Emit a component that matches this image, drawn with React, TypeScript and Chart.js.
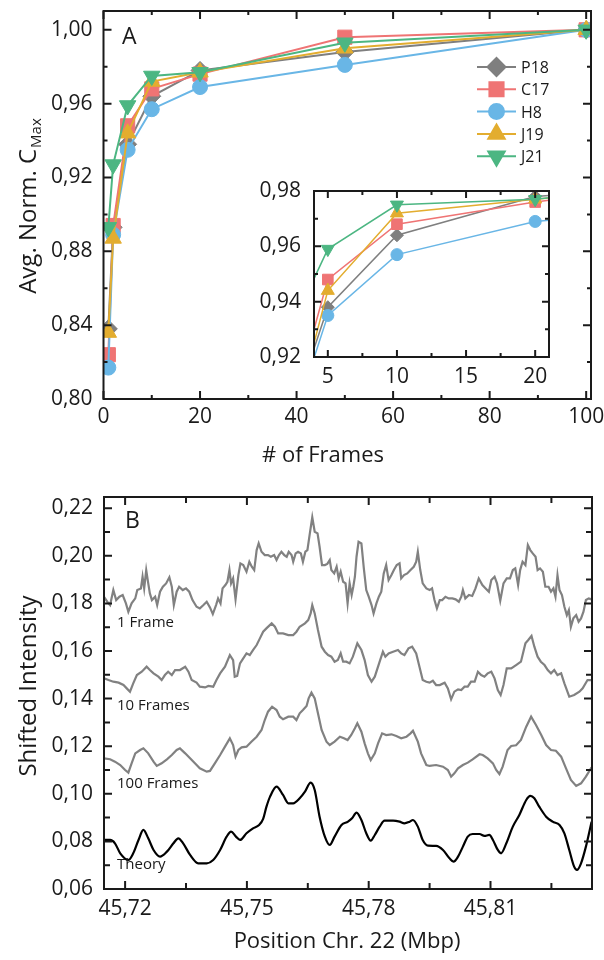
import React, { useEffect, useRef } from 'react';
import { Chart, registerables } from 'chart.js';
import { drawPoint } from 'chart.js/helpers';

Chart.register(...registerables);

const FONT = '"Open Sans", "DejaVu Sans", sans-serif';
const INK = '#1a1a1a';

// ---------------- Panel A data ----------------
const frames = [1, 2, 5, 10, 20, 50, 100];
const seriesNames = ['P18', 'C17', 'H8', 'J19', 'J21'];
const p18 = [0.838, 0.893, 0.938, 0.964, 0.978, 0.988, 1.0];
const c17 = [0.824, 0.894, 0.948, 0.968, 0.976, 0.996, 1.0];
const h8 = [0.817, 0.889, 0.935, 0.957, 0.969, 0.981, 1.0];
const j19 = [0.836, 0.887, 0.944, 0.972, 0.977, 0.990, 1.0];
const j21 = [0.893, 0.927, 0.959, 0.975, 0.977, 0.993, 1.0];
const seriesValues = [p18, c17, h8, j19, j21];
const seriesColors = ['#7f7f7f', '#ef7474', '#69b6e6', '#e3ad2f', '#4cb682'];
const pointStyles = ['rectRot', 'rect', 'circle', 'triangle', 'triangle'];
const pointRotations = [0, 0, 0, 0, 180];
const mainRadii = [9, 10, 7.5, 9.5, 9.5];
const insetRadii = [6.5, 7.5, 6, 7.5, 7.5];

const mainXTicks = [0, 20, 40, 60, 80, 100];
const mainXMinor = [10, 30, 50, 70, 90];
const mainYTicks = [0.8, 0.84, 0.88, 0.92, 0.96, 1.0];
const mainYMinor = [0.82, 0.86, 0.9, 0.94, 0.98];
const insetXTicks = [5, 10, 15, 20];
const insetXMinor = [7.5, 12.5, 17.5];
const insetYTicks = [0.92, 0.94, 0.96, 0.98];
const insetYMinor = [0.93, 0.95, 0.97];

// ---------------- Panel B data ----------------
const pos1Frame = [45.7148, 45.7156, 45.7163, 45.7171, 45.7178, 45.7186, 45.7194, 45.7202, 45.7208, 45.7216, 45.7225, 45.723, 45.7239, 45.7243, 45.7247, 45.7252, 45.7257, 45.7261, 45.7266, 45.7274, 45.7279, 45.7286, 45.7293, 45.7301, 45.7309, 45.7315, 45.732, 45.7327, 45.7333, 45.7342, 45.735, 45.7358, 45.7366, 45.7376, 45.7384, 45.7393, 45.7401, 45.7409, 45.7416, 45.7424, 45.7429, 45.7435, 45.744, 45.7447, 45.7452, 45.7457, 45.7461, 45.7466, 45.7472, 45.7479, 45.7484, 45.7491, 45.7499, 45.7506, 45.7512, 45.7518, 45.7524, 45.7529, 45.7536, 45.7544, 45.7552, 45.7559, 45.7567, 45.7573, 45.7579, 45.7585, 45.7592, 45.7598, 45.7603, 45.761, 45.7614, 45.762, 45.7626, 45.7633, 45.7638, 45.7644, 45.7649, 45.7655, 45.7661, 45.7667, 45.7674, 45.7679, 45.7685, 45.7692, 45.7698, 45.7704, 45.7708, 45.7715, 45.7721, 45.7726, 45.7731, 45.7737, 45.7743, 45.7748, 45.7753, 45.7758, 45.7762, 45.7766, 45.777, 45.7775, 45.7782, 45.7788, 45.7794, 45.78, 45.7807, 45.7812, 45.7819, 45.7825, 45.7831, 45.7837, 45.7843, 45.7849, 45.7856, 45.7862, 45.7869, 45.7876, 45.788, 45.7887, 45.7895, 45.7903, 45.7911, 45.7917, 45.7921, 45.7927, 45.7933, 45.7942, 45.795, 45.7956, 45.7962, 45.7968, 45.7975, 45.7981, 45.7989, 45.7997, 45.8006, 45.8014, 45.8022, 45.8028, 45.8032, 45.8038, 45.8047, 45.8055, 45.8063, 45.8071, 45.808, 45.8088, 45.8096, 45.8102, 45.811, 45.8116, 45.8124, 45.8132, 45.814, 45.8148, 45.8155, 45.8161, 45.8168, 45.8173, 45.8179, 45.8186, 45.8192, 45.8198, 45.8204, 45.8211, 45.8216, 45.8222, 45.8229, 45.8235, 45.8243, 45.8249, 45.8255, 45.826, 45.8265, 45.827, 45.8276, 45.8282, 45.8288, 45.8293, 45.8298, 45.8304, 45.8311, 45.8317, 45.8323, 45.8329, 45.8335, 45.8342, 45.8349];
const int1Frame = [0.1828, 0.1807, 0.1793, 0.1856, 0.1814, 0.1828, 0.1835, 0.18, 0.1765, 0.18, 0.1821, 0.1856, 0.1863, 0.1912, 0.1863, 0.194, 0.1884, 0.1842, 0.1814, 0.1828, 0.1793, 0.1849, 0.187, 0.1884, 0.191, 0.187, 0.1793, 0.1849, 0.187, 0.1856, 0.1863, 0.1849, 0.1814, 0.1786, 0.1779, 0.1793, 0.1807, 0.1783, 0.1755, 0.1793, 0.1821, 0.18, 0.1863, 0.1877, 0.1891, 0.194, 0.1884, 0.1905, 0.1817, 0.1919, 0.1968, 0.1961, 0.1933, 0.1975, 0.1954, 0.194, 0.2024, 0.2052, 0.2017, 0.2003, 0.2003, 0.1996, 0.2003, 0.1982, 0.2003, 0.2017, 0.2003, 0.1996, 0.2017, 0.2003, 0.1975, 0.201, 0.2017, 0.201, 0.1975, 0.2017, 0.2024, 0.2094, 0.2162, 0.2101, 0.2094, 0.2038, 0.1961, 0.1961, 0.1966, 0.1982, 0.194, 0.1926, 0.1954, 0.1905, 0.1933, 0.1891, 0.1884, 0.18, 0.1884, 0.1835, 0.187, 0.1912, 0.1996, 0.2059, 0.2052, 0.1947, 0.1856, 0.1828, 0.1793, 0.1758, 0.18, 0.1828, 0.1849, 0.1926, 0.1961, 0.1898, 0.1919, 0.194, 0.1961, 0.1968, 0.1905, 0.1919, 0.1926, 0.194, 0.1954, 0.1975, 0.2017, 0.194, 0.1884, 0.1863, 0.1856, 0.1863, 0.1814, 0.1779, 0.1814, 0.1814, 0.1828, 0.1821, 0.1821, 0.1817, 0.1807, 0.1828, 0.1856, 0.1821, 0.1835, 0.1831, 0.1863, 0.1905, 0.1877, 0.1863, 0.1849, 0.1898, 0.1912, 0.1884, 0.1811, 0.1884, 0.1905, 0.1905, 0.194, 0.1947, 0.1877, 0.194, 0.1975, 0.1961, 0.2045, 0.2024, 0.201, 0.1996, 0.194, 0.1947, 0.1933, 0.187, 0.187, 0.1849, 0.1863, 0.1828, 0.1919, 0.1856, 0.1835, 0.1786, 0.1751, 0.1772, 0.1702, 0.1737, 0.1751, 0.1723, 0.1737, 0.1765, 0.1814, 0.1821, 0.1817];

const pos10Frames = [45.7148, 45.7159, 45.7171, 45.7184, 45.7196, 45.7204, 45.7212, 45.722, 45.7229, 45.7241, 45.7253, 45.7261, 45.727, 45.7282, 45.729, 45.7298, 45.7306, 45.7315, 45.7323, 45.7335, 45.7348, 45.7356, 45.7364, 45.7376, 45.7384, 45.7397, 45.7405, 45.7417, 45.7425, 45.7434, 45.7446, 45.7458, 45.7466, 45.747, 45.7476, 45.7483, 45.7491, 45.7499, 45.7507, 45.7515, 45.7524, 45.7532, 45.754, 45.7548, 45.7561, 45.7569, 45.7577, 45.7589, 45.7602, 45.7614, 45.7622, 45.763, 45.7643, 45.7651, 45.7657, 45.7661, 45.7667, 45.7675, 45.7684, 45.7692, 45.77, 45.7708, 45.7716, 45.7724, 45.7731, 45.7737, 45.7745, 45.7753, 45.7761, 45.7772, 45.7782, 45.779, 45.7798, 45.7807, 45.7815, 45.7827, 45.7835, 45.7841, 45.7849, 45.786, 45.7872, 45.788, 45.7888, 45.7898, 45.7907, 45.7917, 45.7925, 45.7933, 45.7942, 45.795, 45.7958, 45.7966, 45.7975, 45.7987, 45.7995, 45.8003, 45.8011, 45.802, 45.8028, 45.8036, 45.8044, 45.8052, 45.8061, 45.8069, 45.8077, 45.8085, 45.8093, 45.8102, 45.811, 45.8118, 45.8125, 45.8132, 45.814, 45.8151, 45.8163, 45.8175, 45.8186, 45.8193, 45.8201, 45.8208, 45.8216, 45.8224, 45.8233, 45.8241, 45.8249, 45.8257, 45.8265, 45.8274, 45.8282, 45.8294, 45.8306, 45.8319, 45.8327, 45.8339, 45.8349];
const int10Frames = [0.1485, 0.1478, 0.1471, 0.1467, 0.1457, 0.1443, 0.1429, 0.1464, 0.1499, 0.1513, 0.1534, 0.152, 0.1506, 0.1492, 0.1478, 0.1499, 0.1513, 0.1499, 0.152, 0.152, 0.1534, 0.1513, 0.1478, 0.1467, 0.145, 0.1447, 0.1453, 0.145, 0.1478, 0.1506, 0.1534, 0.1583, 0.1562, 0.1492, 0.1495, 0.1548, 0.1569, 0.159, 0.1583, 0.1604, 0.1625, 0.1653, 0.1681, 0.1695, 0.1716, 0.1702, 0.1674, 0.1674, 0.1667, 0.1667, 0.1681, 0.1702, 0.1716, 0.173, 0.1758, 0.1793, 0.1758, 0.1688, 0.1618, 0.1597, 0.1583, 0.1576, 0.1555, 0.1562, 0.159, 0.1555, 0.1555, 0.1548, 0.1576, 0.1632, 0.1604, 0.1562, 0.1499, 0.1471, 0.1492, 0.1555, 0.1597, 0.1576, 0.159, 0.1597, 0.1604, 0.159, 0.1583, 0.1611, 0.1618, 0.159, 0.1534, 0.1478, 0.1471, 0.1467, 0.1475, 0.1457, 0.1457, 0.1467, 0.1443, 0.1397, 0.1429, 0.1439, 0.1436, 0.145, 0.145, 0.1471, 0.1471, 0.1513, 0.1499, 0.1492, 0.1506, 0.1513, 0.1485, 0.1436, 0.1415, 0.1457, 0.1527, 0.1527, 0.1541, 0.1555, 0.1632, 0.1646, 0.1663, 0.1618, 0.1576, 0.1555, 0.1541, 0.152, 0.1506, 0.152, 0.1499, 0.1506, 0.1464, 0.1408, 0.1415, 0.1429, 0.1443, 0.1478, 0.1478];

const pos100Frames = [45.7148, 45.7163, 45.7175, 45.7188, 45.72, 45.7208, 45.7216, 45.7225, 45.7237, 45.7245, 45.7257, 45.727, 45.7278, 45.729, 45.7303, 45.7315, 45.7327, 45.7335, 45.7348, 45.736, 45.7372, 45.7384, 45.7401, 45.7409, 45.7421, 45.7434, 45.7446, 45.7458, 45.7466, 45.7472, 45.7479, 45.7487, 45.7499, 45.7511, 45.7524, 45.7536, 45.7544, 45.7552, 45.7562, 45.7573, 45.7581, 45.7589, 45.7602, 45.7614, 45.7622, 45.763, 45.7638, 45.7647, 45.7652, 45.7659, 45.7667, 45.7675, 45.7684, 45.7696, 45.7704, 45.7716, 45.7729, 45.7739, 45.7748, 45.7757, 45.7766, 45.7772, 45.7782, 45.779, 45.7798, 45.7805, 45.7815, 45.7823, 45.7833, 45.7843, 45.7856, 45.7868, 45.788, 45.7893, 45.7903, 45.7909, 45.7921, 45.7929, 45.7942, 45.795, 45.7966, 45.7983, 45.7995, 45.8003, 45.8011, 45.802, 45.8032, 45.8044, 45.8056, 45.8073, 45.8081, 45.8093, 45.8106, 45.8114, 45.8122, 45.813, 45.8142, 45.8151, 45.8163, 45.8175, 45.8188, 45.82, 45.8212, 45.8225, 45.8237, 45.8249, 45.8261, 45.8274, 45.8286, 45.8298, 45.8311, 45.8323, 45.8335, 45.8349];
const int100Frames = [0.1149, 0.1145, 0.1135, 0.1121, 0.11, 0.1089, 0.1128, 0.117, 0.1184, 0.1191, 0.117, 0.1135, 0.1117, 0.1128, 0.1145, 0.1163, 0.1184, 0.1191, 0.117, 0.1149, 0.1128, 0.1107, 0.1093, 0.1096, 0.1128, 0.1163, 0.1198, 0.1233, 0.1205, 0.1156, 0.1184, 0.1195, 0.1198, 0.1219, 0.124, 0.1268, 0.131, 0.1345, 0.1366, 0.1352, 0.1324, 0.1313, 0.1324, 0.1324, 0.131, 0.1338, 0.1352, 0.1369, 0.1401, 0.1425, 0.1401, 0.1338, 0.1268, 0.1219, 0.1205, 0.1219, 0.124, 0.1233, 0.1226, 0.1247, 0.1275, 0.1296, 0.1261, 0.1212, 0.117, 0.1142, 0.117, 0.1212, 0.1254, 0.1247, 0.125, 0.1243, 0.1233, 0.124, 0.1254, 0.1265, 0.1219, 0.117, 0.1121, 0.1117, 0.1121, 0.1114, 0.11, 0.1072, 0.1086, 0.1107, 0.1121, 0.1131, 0.1145, 0.1166, 0.1163, 0.1149, 0.1128, 0.11, 0.1083, 0.1114, 0.1184, 0.1201, 0.1204, 0.1226, 0.1282, 0.1324, 0.1289, 0.1247, 0.1205, 0.1184, 0.1181, 0.1156, 0.1107, 0.1058, 0.1033, 0.1044, 0.1072, 0.1111];

const posTheory = [45.7148, 45.7163, 45.7175, 45.7188, 45.7208, 45.722, 45.7233, 45.7245, 45.7257, 45.727, 45.7286, 45.7303, 45.7319, 45.7331, 45.7343, 45.736, 45.738, 45.7401, 45.7417, 45.7434, 45.745, 45.7461, 45.7473, 45.7483, 45.7499, 45.7515, 45.753, 45.754, 45.7548, 45.7557, 45.7573, 45.7589, 45.7602, 45.7614, 45.763, 45.7643, 45.7657, 45.7667, 45.7679, 45.7692, 45.7704, 45.7716, 45.7733, 45.7749, 45.7759, 45.777, 45.7782, 45.7794, 45.7805, 45.7815, 45.7827, 45.7839, 45.786, 45.7876, 45.7888, 45.7901, 45.7909, 45.7921, 45.7933, 45.7946, 45.7966, 45.7983, 45.7999, 45.8009, 45.802, 45.8032, 45.8044, 45.8056, 45.8073, 45.8085, 45.8097, 45.8106, 45.8118, 45.8126, 45.8139, 45.8155, 45.8171, 45.8188, 45.8198, 45.8208, 45.822, 45.8237, 45.8253, 45.827, 45.8282, 45.8294, 45.8306, 45.8313, 45.8323, 45.8335, 45.8349];
const intTheory = [0.0806, 0.0806, 0.0792, 0.075, 0.0722, 0.075, 0.0806, 0.0848, 0.0813, 0.0764, 0.0736, 0.0757, 0.0792, 0.0813, 0.0792, 0.0743, 0.0708, 0.0708, 0.0722, 0.0764, 0.082, 0.0841, 0.082, 0.0806, 0.0834, 0.0855, 0.0869, 0.0895, 0.0945, 0.0988, 0.103, 0.0995, 0.096, 0.096, 0.0981, 0.1009, 0.1047, 0.1016, 0.0904, 0.082, 0.0785, 0.082, 0.0869, 0.0883, 0.0897, 0.0921, 0.089, 0.0834, 0.0803, 0.0827, 0.0862, 0.0887, 0.0887, 0.0883, 0.0876, 0.0883, 0.089, 0.0862, 0.0806, 0.0782, 0.0781, 0.0764, 0.0729, 0.0715, 0.0736, 0.0778, 0.082, 0.0831, 0.0831, 0.0823, 0.0827, 0.0806, 0.0764, 0.075, 0.0792, 0.0862, 0.0911, 0.0974, 0.0991, 0.0981, 0.0946, 0.0904, 0.0883, 0.0869, 0.0834, 0.0764, 0.0694, 0.068, 0.0708, 0.0778, 0.0883];

const curveLabels = ['1 Frame', '10 Frames', '100 Frames', 'Theory'];
const bXTicks = [45.72, 45.75, 45.78, 45.81];
const bXMinor = [45.735, 45.765, 45.795, 45.825];
const bYTicks = [0.06, 0.08, 0.1, 0.12, 0.14, 0.16, 0.18, 0.2, 0.22];
const bYMinor = [0.07, 0.09, 0.11, 0.13, 0.15, 0.17, 0.19, 0.21];

// ---------------- helpers ----------------
const comma = (v: number) => Number(v).toFixed(2).replace('.', ',');

function fixedTicks(values: number[]) {
  return (s: any) => {
    s.ticks = values.map((value) => ({ value }));
  };
}

function fitBox(kind: 'w' | 'h', size: number) {
  return (s: any) => {
    if (kind === 'w') s.width = size;
    else s.height = size;
    s.paddingLeft = 0;
    s.paddingRight = 0;
    s.paddingTop = 0;
    s.paddingBottom = 0;
  };
}

function framePlugin(cfg: {
  xMajor: number[]; xMinor: number[]; yMajor: number[]; yMinor: number[];
  majorLen: number; minorLen: number; lw: number; fill?: string;
  extra?: (chart: any) => void;
}) {
  return {
    id: 'frameTicks',
    beforeDatasetsDraw(chart: any) {
      if (!cfg.fill) return;
      const { ctx, chartArea: ca } = chart;
      ctx.save();
      ctx.fillStyle = cfg.fill;
      ctx.fillRect(ca.left, ca.top, ca.right - ca.left, ca.bottom - ca.top);
      ctx.restore();
    },
    afterDatasetsDraw(chart: any) {
      const { ctx, chartArea: ca, scales } = chart;
      const xs = scales.x;
      const ys = scales.y;
      ctx.save();
      ctx.strokeStyle = INK;
      ctx.lineWidth = cfg.lw;
      ctx.beginPath();
      const xt = (vals: number[], len: number) => {
        vals.forEach((v) => {
          const p = xs.getPixelForValue(v);
          ctx.moveTo(p, ca.bottom);
          ctx.lineTo(p, ca.bottom - len);
          ctx.moveTo(p, ca.top);
          ctx.lineTo(p, ca.top + len);
        });
      };
      const yt = (vals: number[], len: number) => {
        vals.forEach((v) => {
          const p = ys.getPixelForValue(v);
          ctx.moveTo(ca.left, p);
          ctx.lineTo(ca.left + len, p);
          ctx.moveTo(ca.right, p);
          ctx.lineTo(ca.right - len, p);
        });
      };
      xt(cfg.xMajor, cfg.majorLen);
      xt(cfg.xMinor, cfg.minorLen);
      yt(cfg.yMajor, cfg.majorLen);
      yt(cfg.yMinor, cfg.minorLen);
      ctx.stroke();
      ctx.strokeRect(ca.left, ca.top, ca.right - ca.left, ca.bottom - ca.top);
      ctx.restore();
      if (cfg.extra) cfg.extra(chart);
    },
  };
}

function label(ctx: CanvasRenderingContext2D, s: string, x: number, y: number, size: number, align: CanvasTextAlign = 'left') {
  ctx.save();
  ctx.font = `${size}px ${FONT}`;
  ctx.fillStyle = INK;
  ctx.textAlign = align;
  ctx.textBaseline = 'alphabetic';
  ctx.fillText(s, x, y);
  ctx.restore();
}

function vLabel(ctx: CanvasRenderingContext2D, main: string, sub: string, x: number, cy: number, size: number) {
  ctx.save();
  ctx.translate(x, cy);
  ctx.rotate(-Math.PI / 2);
  ctx.fillStyle = INK;
  ctx.textBaseline = 'alphabetic';
  ctx.font = `${size}px ${FONT}`;
  const w1 = ctx.measureText(main).width;
  const subSize = Math.round(size * 0.62);
  ctx.font = `${subSize}px ${FONT}`;
  const w2 = sub ? ctx.measureText(sub).width + 1 : 0;
  const start = -(w1 + w2) / 2;
  ctx.font = `${size}px ${FONT}`;
  ctx.fillText(main, start, 0);
  if (sub) {
    ctx.font = `${subSize}px ${FONT}`;
    ctx.fillText(sub, start + w1 + 1, 5);
  }
  ctx.restore();
}

const tickFont = { family: FONT, size: 21 };

function lineDatasets(radii: number[], width: number) {
  return seriesNames.map((name, i) => ({
    label: name,
    data: frames.map((f, k) => ({ x: f, y: seriesValues[i][k] })),
    borderColor: seriesColors[i],
    backgroundColor: seriesColors[i],
    pointBackgroundColor: seriesColors[i],
    pointBorderColor: seriesColors[i],
    pointBorderWidth: 1,
    pointStyle: pointStyles[i],
    pointRotation: pointRotations[i],
    pointRadius: radii[i],
    borderWidth: width,
    tension: 0,
    fill: false,
    order: seriesNames.length - 1 - i,
  }));
}

function configA(): any {
  return {
    type: 'line',
    data: { datasets: lineDatasets(mainRadii, 2) },
    options: {
      responsive: false,
      animation: false,
      devicePixelRatio: 1,
      layout: { padding: { left: 0, right: 13, top: 8, bottom: 0 } },
      plugins: { legend: { display: false }, tooltip: { enabled: false }, title: { display: false } },
      scales: {
        x: {
          type: 'linear', min: 0, max: 101,
          grid: { display: false, drawTicks: false }, border: { display: false },
          ticks: { font: tickFont, color: INK, padding: 5, maxRotation: 0, autoSkip: false, callback: (v: number) => String(v) },
          afterBuildTicks: fixedTicks(mainXTicks),
          afterFit: fitBox('h', 71),
        },
        y: {
          type: 'linear', min: 0.8, max: 1.0102,
          grid: { display: false, drawTicks: false }, border: { display: false },
          ticks: { font: tickFont, color: INK, padding: 11, autoSkip: false, callback: (v: number) => comma(v) },
          afterBuildTicks: fixedTicks(mainYTicks),
          afterFit: fitBox('w', 103.5),
        },
      },
    },
    plugins: [
      framePlugin({
        xMajor: mainXTicks, xMinor: mainXMinor, yMajor: mainYTicks, yMinor: mainYMinor,
        majorLen: 8, minorLen: 4, lw: 2,
        extra: (chart: any) => {
          const ctx: CanvasRenderingContext2D = chart.ctx;
          label(ctx, 'A', 122, 44, 23);
          seriesNames.forEach((name, i) => {
            const y = 67 + i * 22.3;
            ctx.save();
            ctx.strokeStyle = seriesColors[i];
            ctx.fillStyle = seriesColors[i];
            ctx.lineWidth = 2;
            ctx.beginPath();
            ctx.moveTo(477, y);
            ctx.lineTo(516, y);
            ctx.stroke();
            drawPoint(ctx, { pointStyle: pointStyles[i], rotation: pointRotations[i], radius: mainRadii[i], borderWidth: 1 } as any, 496.5, y);
            ctx.restore();
            label(ctx, name, 521, y + 6, 16);
          });
          vLabel(ctx, 'Avg. Norm. C', 'Max', 36, 206, 24);
          label(ctx, '# of Frames', 323, 462, 22, 'center');
        },
      }),
    ],
  };
}

function configInset(): any {
  return {
    type: 'line',
    data: { datasets: lineDatasets(insetRadii, 1.5) },
    options: {
      responsive: false,
      animation: false,
      devicePixelRatio: 1,
      layout: { padding: { left: 0, right: 11, top: 11, bottom: 0 } },
      plugins: { legend: { display: false }, tooltip: { enabled: false }, title: { display: false } },
      scales: {
        x: {
          type: 'linear', min: 4, max: 21,
          grid: { display: false, drawTicks: false }, border: { display: false },
          ticks: { font: tickFont, color: INK, padding: 7, maxRotation: 0, autoSkip: false, callback: (v: number) => String(v) },
          afterBuildTicks: fixedTicks(insetXTicks),
          afterFit: fitBox('h', 38),
        },
        y: {
          type: 'linear', min: 0.92, max: 0.98,
          grid: { display: false, drawTicks: false }, border: { display: false },
          ticks: { font: tickFont, color: INK, padding: 13, autoSkip: false, callback: (v: number) => comma(v) },
          afterBuildTicks: fixedTicks(insetYTicks),
          afterFit: fitBox('w', 64),
        },
      },
    },
    plugins: [
      framePlugin({
        xMajor: insetXTicks, xMinor: insetXMinor, yMajor: insetYTicks, yMinor: insetYMinor,
        majorLen: 7, minorLen: 4, lw: 2, fill: '#ffffff',
      }),
    ],
  };
}

function curve(pos: number[], vals: number[], color: string, smooth: boolean) {
  return {
    data: pos.map((x, i) => ({ x, y: vals[i] })),
    borderColor: color,
    borderWidth: 2.2,
    pointRadius: 0,
    fill: false,
    tension: 0,
    cubicInterpolationMode: smooth ? 'monotone' : 'default',
  };
}

function configB(): any {
  return {
    type: 'line',
    data: {
      datasets: [
        curve(pos1Frame, int1Frame, '#818181', false),
        curve(pos10Frames, int10Frames, '#818181', false),
        curve(pos100Frames, int100Frames, '#818181', false),
        curve(posTheory, intTheory, '#000000', true),
      ],
    },
    options: {
      responsive: false,
      animation: false,
      devicePixelRatio: 1,
      layout: { padding: { left: 0, right: 12, top: 27, bottom: 0 } },
      plugins: { legend: { display: false }, tooltip: { enabled: false }, title: { display: false } },
      scales: {
        x: {
          type: 'linear', min: 45.7148, max: 45.835,
          grid: { display: false, drawTicks: false }, border: { display: false },
          ticks: { font: tickFont, color: INK, padding: 7, maxRotation: 0, autoSkip: false, callback: (v: number) => comma(v) },
          afterBuildTicks: fixedTicks(bXTicks),
          afterFit: fitBox('h', 71),
        },
        y: {
          type: 'linear', min: 0.06, max: 0.2247,
          grid: { display: false, drawTicks: false }, border: { display: false },
          ticks: { font: tickFont, color: INK, padding: 11, autoSkip: false, callback: (v: number) => comma(v) },
          afterBuildTicks: fixedTicks(bYTicks),
          afterFit: fitBox('w', 104),
        },
      },
    },
    plugins: [
      framePlugin({
        xMajor: bXTicks, xMinor: bXMinor, yMajor: bYTicks, yMinor: bYMinor,
        majorLen: 8, minorLen: 6, lw: 2,
        extra: (chart: any) => {
          const ctx: CanvasRenderingContext2D = chart.ctx;
          label(ctx, 'B', 125, 58, 23);
          const baselines = [157, 240, 318, 399];
          curveLabels.forEach((t, i) => label(ctx, t, 117, baselines[i], 15));
          vLabel(ctx, 'Shifted Intensity', '', 36, 216, 24);
          label(ctx, 'Position Chr. 22 (Mbp)', 347, 478, 22, 'center');
        },
      }),
    ],
  };
}

export default function App() {
  const aRef = useRef<HTMLCanvasElement>(null);
  const insetRef = useRef<HTMLCanvasElement>(null);
  const bRef = useRef<HTMLCanvasElement>(null);

  useEffect(() => {
    const charts = [
      new Chart(aRef.current as HTMLCanvasElement, configA()),
      new Chart(insetRef.current as HTMLCanvasElement, configInset()),
      new Chart(bRef.current as HTMLCanvasElement, configB()),
    ];
    return () => charts.forEach((c) => c.destroy());
  }, []);

  return (
    <div style={{ position: 'absolute', left: 0, top: 0, width: 604, height: 960, background: '#ffffff' }}>
      <canvas ref={aRef} width={604} height={470} style={{ position: 'absolute', left: 0, top: 0, width: 604, height: 470 }} />
      <canvas ref={insetRef} width={310} height={215} style={{ position: 'absolute', left: 250, top: 180, width: 310, height: 215 }} />
      <canvas ref={bRef} width={604} height={490} style={{ position: 'absolute', left: 0, top: 470, width: 604, height: 490 }} />
    </div>
  );
}
